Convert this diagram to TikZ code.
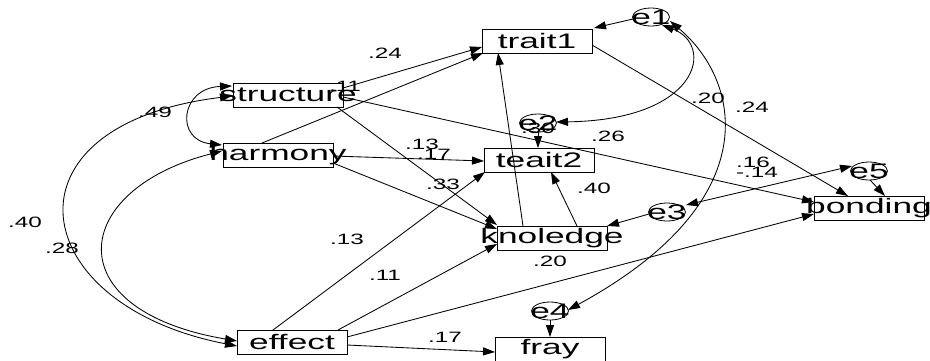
\documentclass[tikz,border=0pt]{standalone}
\usepackage{fontspec}
\setmainfont{Liberation Sans}
\newfontfamily\widefont[FakeStretch=1.68]{Liberation Sans}
\newfontfamily\labfont[FakeStretch=1.62]{Liberation Sans}
\usetikzlibrary{arrows.meta,shapes.geometric,calc}
\begin{document}
\begin{tikzpicture}[x=1pt,y=-1pt,
  box/.style={draw, line width=0.9pt, minimum width=110pt, minimum height=24pt, inner sep=0pt, font={\widefont\fontsize{21}{21}\selectfont}},
  err/.style={draw, ellipse, line width=0.8pt, minimum width=37pt, minimum height=18pt, inner sep=0pt},
  etext/.style={inner sep=0pt, font={\widefont\fontsize{21}{21}\selectfont}},
  lab/.style={inner sep=0pt, font={\labfont\fontsize{15}{15}\selectfont}},
  arr/.style={-{Triangle[length=12pt,width=8pt]}, line width=0.85pt},
  dbl/.style={{Triangle[length=12pt,width=8pt]}-{Triangle[length=12pt,width=8pt]}, line width=0.85pt}]
\useasboundingbox (0,0) rectangle (930,360);

% boxes
\node[box] (trait1) at (537,41) {\makebox[0pt]{trait1}};
\node[box] (structure) at (288,95) {\makebox[0pt]{structure}};
\node[box] (harmony) at (278,155) {\makebox[0pt]{harmony}};
\node[box] (teait2) at (539,160) {\makebox[0pt]{teait2}};
\node[box] (knoledge) at (552,238) {\makebox[0pt]{knoledge}};
\node[box] (bonding) at (869,208) {\makebox[0pt]{bonding}};
\node[box] (effect) at (292,342) {\makebox[0pt]{effect}};
\node[box] (fray) at (550,349) {\makebox[0pt]{fray}};

% error terms
\node[err] (e1) at (651,17) {};
\node[etext] (e1t) at (e1) {e1};
\node[err] (e2) at (538,123) {};
\node[etext] (e2t) at (e2) {e2};
\node[err] (e3) at (667,212) {};
\node[etext] (e3t) at (e3) {e3};
\node[err] (e4) at (550,311) {};
\node[etext] (e4t) at (e4) {e4};
\node[err] (e5) at (869,171) {};
\node[etext] (e5t) at (e5) {e5};

% paths
\draw[arr] ($(structure)+(55,-7)$) -- ($(trait1)+(-55,6)$);
\draw[arr] ($(harmony)+(-16,-12)$) -- ($(trait1)+(-54,12)$);
\draw[arr] ($(structure)+(49,12)$) -- ($(knoledge)+(-55,-13)$);
\draw[arr] ($(structure)+(55,2)$) -- ($(bonding)+(-55,-6)$);
\draw[arr] ($(harmony)+(55,1)$) -- ($(teait2)+(-55,1)$);
\draw[arr] ($(harmony)+(55,8)$) -- ($(knoledge)+(-55,-9)$);
\draw[arr] ($(knoledge)+(-29,-12)$) -- ($(trait1)+(-39,12)$);
\draw[arr] ($(knoledge)+(25,-12)$) -- ($(teait2)+(12,12)$);
\draw[arr] ($(effect)+(-19,-12)$) -- ($(teait2)+(-54,12)$);
\draw[arr] ($(effect)+(46,-12)$) -- ($(knoledge)+(-55,6)$);
\draw[arr] ($(effect)+(55,-5)$) -- ($(bonding)+(-55,6)$);
\draw[arr] ($(effect)+(55,3)$) -- ($(fray)+(-55,3)$);
\draw[arr] ($(trait1)+(55,4)$) -- ($(bonding)+(-21,-12)$);
\draw[arr] ($(e5)+(1,9)$) -- ($(bonding)+(16,-12)$);
\draw[arr] ($(e1)+(-18,2)$) -- ($(trait1)+(57,-13)$);
\draw[arr] ($(e2)+(0,9)$) -- ($(teait2)+(-1,-12)$);
\draw[arr] ($(e3)+(-18,2)$) -- ($(knoledge)+(55,-12)$);
\draw[arr] ($(e4)+(0,9)$) -- ($(fray)+(0,-12)$);

% covariances
\draw[dbl] ($(e1)+(11,8)$) .. controls (715,45) and (700,120) .. ($(e2)+(18,-1)$);
\draw[dbl] ($(e1)+(19,4)$) .. controls (740,80) and (770,200) .. ($(e4)+(18,-1)$);
\draw[dbl] ($(e3)+(19,-7)$) -- ($(e5)+(-17,-5)$);
\draw[dbl] ($(structure)+(-56,-9)$) .. controls (180,88) and (175,140) .. ($(harmony)+(-56,-10)$);
\draw[dbl] ($(structure)+(-56,1)$) .. controls (-5,125) and (25,305) .. ($(effect)+(-55,4)$);
\draw[dbl] ($(harmony)+(-56,-4)$) .. controls (70,190) and (55,310) .. ($(effect)+(-55,-1)$);

% labels
\node[lab] (l1) at (385,53) {.24};
\node[lab] (l2) at (345,86) {.11};
\node[lab] (l3) at (155,112) {.49};
\node[lab] (l4) at (422,144) {.13};
\node[lab] (l5) at (434,154) {.17};
\node[lab] (l6) at (538,128) {.30};
\node[lab] (l7) at (608,136) {.26};
\node[lab] (l8) at (708,98) {.20};
\node[lab] (l9) at (752,107) {.24};
\node[lab] (l10) at (753,162) {.16};
\node[lab] (l11) at (757,172) {-.14};
\node[lab] (l12) at (594,188) {.40};
\node[lab] (l13) at (443,184) {.33};
\node[lab] (l14) at (347,239) {.13};
\node[lab] (l15) at (385,275) {.11};
\node[lab] (l16) at (550,261) {.20};
\node[lab] (l17) at (445,337) {.17};
\node[lab] (l18) at (25,222) {.40};
\node[lab] (l19) at (62,248) {.28};
\end{tikzpicture}
\end{document}
